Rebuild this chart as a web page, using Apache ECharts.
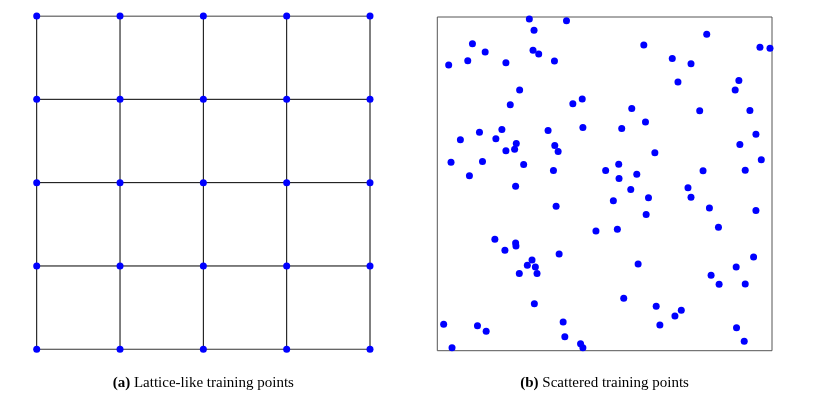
<!DOCTYPE html>
<html>
<head>
<meta charset="utf-8">
<script src="https://cdn.jsdelivr.net/npm/echarts@6/dist/echarts.min.js"></script>
<style>html,body{margin:0;padding:0;background:#fff}#c{width:818px;height:397px}</style>
</head>
<body>
<div id="c"></div>
<script>
// Lattice coordinates (unit square)
const latticeX = [0, 0.25, 0.5, 0.75, 1];
const latticeY = [0, 0.25, 0.5, 0.75, 1];

// Scattered training points (unit square)
const scatterX = [0.275,0.386,0.289,0.105,0.143,0.286,0.303,0.034,0.091,0.205,0.350,0.246,0.218,0.405,0.433,0.193,0.126,0.069,0.175,0.236,0.231,0.205,0.331,0.435,0.351,0.361,0.041,0.135,0.258,0.347,0.096,0.503,
0.805,0.617,0.964,0.994,0.702,0.758,0.719,0.901,0.890,0.581,0.784,0.934,0.622,0.551,0.952,0.904,0.650,0.542,0.968,0.543,0.596,0.794,0.920,
0.234,0.355,0.474,0.172,0.234,0.235,0.202,0.364,0.283,0.269,0.293,0.245,0.298,0.290,0.019,0.120,0.146,0.376,0.381,0.428,0.435,0.044,
0.578,0.526,0.631,0.749,0.758,0.624,0.813,0.952,0.538,0.840,0.600,0.945,0.893,0.818,0.842,0.920,0.557,0.654,0.729,0.710,0.665,0.894,0.917];
const scatterY = [0.994,0.989,0.960,0.920,0.895,0.900,0.889,0.856,0.869,0.863,0.868,0.781,0.737,0.740,0.754,0.663,0.655,0.632,0.635,0.621,0.604,0.599,0.660,0.669,0.615,0.597,0.565,0.567,0.558,0.540,0.524,0.540,
0.948,0.916,0.909,0.906,0.876,0.860,0.805,0.810,0.781,0.726,0.719,0.720,0.685,0.666,0.649,0.618,0.593,0.559,0.572,0.516,0.529,0.539,0.541,
0.493,0.433,0.359,0.334,0.323,0.314,0.301,0.290,0.272,0.256,0.251,0.231,0.231,0.141,0.079,0.075,0.058,0.086,0.042,0.021,0.009,0.009,
0.483,0.449,0.458,0.488,0.460,0.408,0.428,0.420,0.364,0.370,0.260,0.281,0.251,0.226,0.199,0.200,0.157,0.133,0.121,0.104,0.077,0.069,0.028];

const captions = ['(a)', 'Lattice-like training points', '(b)', 'Scattered training points'];

const chart = echarts.init(document.getElementById('c'), null, {renderer: 'canvas'});

const latticePts = [];
latticeY.forEach(y => latticeX.forEach(x => latticePts.push([x, y])));

const lineSeries = [];
latticeY.forEach(y => lineSeries.push({
  type: 'line', xAxisIndex: 0, yAxisIndex: 0, symbol: 'none', silent: true,
  lineStyle: {color: '#000', width: 1}, data: latticeX.map(x => [x, y]), z: 1
}));
latticeX.forEach(x => lineSeries.push({
  type: 'line', xAxisIndex: 0, yAxisIndex: 0, symbol: 'none', silent: true,
  lineStyle: {color: '#000', width: 1}, data: latticeY.map(y => [x, y]), z: 1
}));

const hiddenAxis = (gi) => ({gridIndex: gi, type: 'value', min: 0, max: 1, show: false});

chart.setOption({
  animation: false,
  backgroundColor: '#fff',
  grid: [
    {left: 36.7, top: 16, width: 333.3, height: 333.3, show: false},
    {left: 437.3, top: 17, width: 334.7, height: 333.7, show: true, borderColor: '#555', borderWidth: 1, backgroundColor: 'transparent'}
  ],
  xAxis: [hiddenAxis(0), hiddenAxis(1)],
  yAxis: [hiddenAxis(0), hiddenAxis(1)],
  series: lineSeries.concat([
    {type: 'scatter', xAxisIndex: 0, yAxisIndex: 0, symbolSize: 7, itemStyle: {color: '#0000ff', opacity: 1}, data: latticePts, z: 3},
    {type: 'scatter', xAxisIndex: 1, yAxisIndex: 1, symbolSize: 7, itemStyle: {color: '#0000ff', opacity: 1}, data: scatterX.map((x, i) => [x, scatterY[i]]), z: 3}
  ]),
  graphic: [
    {type: 'text', x: 203.3, y: 383, style: {
      text: '{b|' + captions[0] + '} ' + captions[1], align: 'center', verticalAlign: 'middle',
      font: '15px "Liberation Serif"', fill: '#000',
      rich: {b: {font: 'bold 15px "Liberation Serif"', fill: '#000'}}
    }},
    {type: 'text', x: 604.6, y: 383, style: {
      text: '{b|' + captions[2] + '} ' + captions[3], align: 'center', verticalAlign: 'middle',
      font: '15px "Liberation Serif"', fill: '#000',
      rich: {b: {font: 'bold 15px "Liberation Serif"', fill: '#000'}}
    }}
  ]
});
</script>
</body>
</html>
